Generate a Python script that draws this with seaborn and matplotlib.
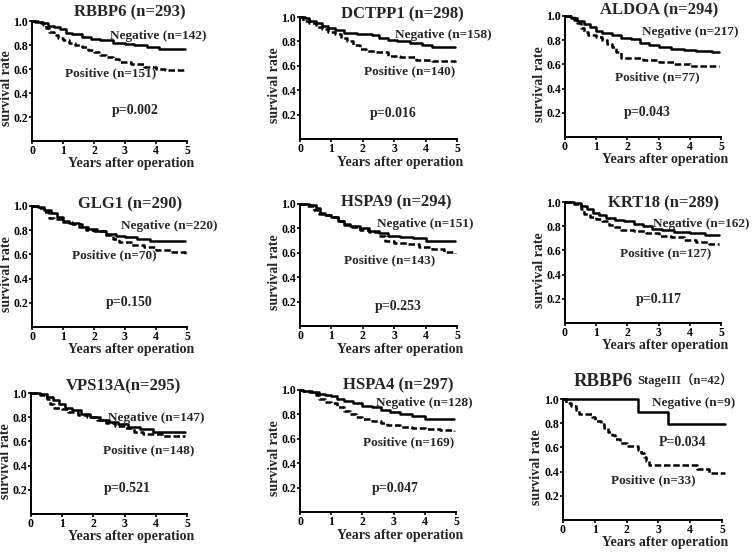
import matplotlib
matplotlib.use("Agg")
import matplotlib.pyplot as plt
import seaborn as sns

# ---------------- data ----------------
titles = ["RBBP6 (n=293)", "DCTPP1 (n=298)", "ALDOA (n=294)",
          "GLG1 (n=290)", "HSPA9 (n=294)", "KRT18 (n=289)",
          "VPS13A(n=295)", "HSPA4 (n=297)", "RBBP6"]
neg_labels = ["Negative (n=142)", "Negative (n=158)", "Negative (n=217)",
              "Negative (n=220)", "Negative (n=151)", "Negative (n=162)",
              "Negative (n=147)", "Negative (n=128)", "Negative (n=9)"]
pos_labels = ["Positive (n=151)", "Positive (n=140)", "Positive (n=77)",
              "Positive (n=70)", "Positive (n=143)", "Positive (n=127)",
              "Positive (n=148)", "Positive (n=169)", "Positive (n=33)"]
p_labels = ["p=0.002", "p=0.016", "p=0.043", "p=0.150", "p=0.253",
            "p=0.117", "p=0.521", "p=0.047", "P=0.034"]
subtitle9 = "StageIII（n=42）"
x_ticks = [0, 1, 2, 3, 4, 5]
y_ticks = [0.2, 0.4, 0.6, 0.8, 1.0]

rbbp6_neg_t = [0, 0.1, 0.3, 0.5, 0.7, 0.9, 1.1, 1.3, 1.6, 1.9, 2.2, 2.6, 3.0, 3.3, 3.7, 4.1, 4.5, 4.95]
rbbp6_neg_s = [1.0, 0.99, 0.98, 0.96, 0.95, 0.93, 0.90, 0.89, 0.87, 0.85, 0.84, 0.82, 0.81, 0.80, 0.78, 0.77, 0.765, 0.765]
rbbp6_pos_t = [0, 0.2, 0.35, 0.45, 0.55, 0.7, 0.85, 1.0, 1.2, 1.4, 1.6, 1.8, 2.0, 2.2, 2.4, 2.6, 2.8, 3.2, 3.6, 4.0, 4.3, 4.95]
rbbp6_pos_s = [1.0, 0.99, 0.97, 0.94, 0.91, 0.88, 0.86, 0.84, 0.82, 0.80, 0.78, 0.76, 0.74, 0.72, 0.70, 0.68, 0.66, 0.64, 0.62, 0.60, 0.59, 0.59]

dctpp1_neg_t = [0, 0.15, 0.3, 0.5, 0.7, 0.9, 1.1, 1.4, 1.8, 2.3, 2.5, 2.8, 3.1, 3.5, 3.9, 4.2, 4.95]
dctpp1_neg_s = [1.0, 0.99, 0.97, 0.95, 0.93, 0.91, 0.89, 0.87, 0.86, 0.85, 0.83, 0.81, 0.80, 0.79, 0.77, 0.755, 0.755]
dctpp1_pos_t = [0, 0.1, 0.3, 0.5, 0.7, 0.9, 1.1, 1.3, 1.5, 1.7, 1.9, 2.1, 2.4, 2.8, 3.2, 3.7, 4.2, 4.95]
dctpp1_pos_s = [1.0, 0.97, 0.95, 0.92, 0.90, 0.88, 0.86, 0.83, 0.80, 0.77, 0.74, 0.72, 0.71, 0.68, 0.67, 0.65, 0.64, 0.63]

aldoa_neg_t = [0, 0.2, 0.4, 0.6, 0.8, 1.0, 1.2, 1.5, 1.8, 2.1, 2.4, 2.7, 3.0, 3.4, 3.8, 4.2, 4.7, 4.95]
aldoa_neg_s = [1.0, 0.98, 0.96, 0.93, 0.91, 0.88, 0.86, 0.84, 0.82, 0.81, 0.78, 0.76, 0.745, 0.73, 0.72, 0.71, 0.70, 0.70]
aldoa_pos_t = [0, 0.3, 0.4, 0.5, 0.6, 0.75, 1.0, 1.2, 1.35, 1.5, 1.65, 1.8, 2.5, 3.0, 3.5, 4.0, 4.95]
aldoa_pos_s = [1.0, 0.97, 0.94, 0.90, 0.87, 0.84, 0.83, 0.80, 0.77, 0.74, 0.70, 0.65, 0.64, 0.62, 0.60, 0.59, 0.585]

glg1_neg_t = [0, 0.2, 0.4, 0.6, 0.8, 1.0, 1.2, 1.5, 1.8, 2.1, 2.4, 2.7, 3.0, 3.4, 3.8, 4.95]
glg1_neg_s = [1.0, 0.99, 0.97, 0.94, 0.91, 0.88, 0.86, 0.83, 0.81, 0.79, 0.77, 0.75, 0.74, 0.73, 0.71, 0.71]
glg1_pos_t = [0, 0.2, 0.4, 0.55, 0.7, 1.0, 1.3, 1.6, 1.75, 2.0, 2.4, 2.6, 2.8, 3.2, 3.6, 4.0, 4.5, 4.95]
glg1_pos_s = [1.0, 0.98, 0.95, 0.90, 0.89, 0.87, 0.85, 0.83, 0.80, 0.79, 0.76, 0.73, 0.70, 0.68, 0.66, 0.64, 0.62, 0.60]

hspa9_neg_t = [0, 0.3, 0.5, 0.65, 0.8, 1.0, 1.2, 1.4, 1.6, 1.9, 2.2, 2.5, 2.8, 3.2, 3.6, 4.0, 4.95]
hspa9_neg_s = [1.0, 0.99, 0.97, 0.93, 0.91, 0.89, 0.86, 0.84, 0.82, 0.80, 0.78, 0.76, 0.74, 0.73, 0.72, 0.70, 0.70]
hspa9_pos_t = [0, 0.2, 0.45, 0.6, 0.8, 1.0, 1.2, 1.4, 1.6, 1.9, 2.2, 2.5, 2.7, 3.0, 3.4, 3.8, 4.2, 4.6, 4.95]
hspa9_pos_s = [1.0, 0.98, 0.95, 0.92, 0.91, 0.89, 0.86, 0.83, 0.81, 0.79, 0.77, 0.74, 0.70, 0.68, 0.67, 0.65, 0.63, 0.61, 0.60]

krt18_neg_t = [0, 0.3, 0.5, 0.7, 0.9, 1.1, 1.3, 1.6, 1.9, 2.2, 2.5, 2.8, 3.1, 3.5, 4.0, 4.5, 4.95]
krt18_neg_s = [1.0, 0.99, 0.97, 0.94, 0.91, 0.89, 0.87, 0.85, 0.84, 0.82, 0.80, 0.78, 0.77, 0.75, 0.74, 0.73, 0.73]
krt18_pos_t = [0, 0.3, 0.5, 0.6, 0.8, 1.0, 1.2, 1.4, 1.6, 1.8, 2.2, 2.6, 3.0, 3.4, 3.8, 4.2, 4.6, 4.95]
krt18_pos_s = [1.0, 0.98, 0.94, 0.90, 0.88, 0.86, 0.84, 0.81, 0.79, 0.77, 0.76, 0.74, 0.72, 0.71, 0.69, 0.67, 0.655, 0.65]

vps13a_neg_t = [0, 0.3, 0.5, 0.7, 0.9, 1.1, 1.3, 1.6, 1.9, 2.2, 2.5, 2.8, 3.1, 3.5, 3.9, 4.95]
vps13a_neg_s = [1.0, 0.99, 0.97, 0.94, 0.91, 0.88, 0.86, 0.83, 0.80, 0.78, 0.76, 0.74, 0.72, 0.70, 0.68, 0.68]
vps13a_pos_t = [0, 0.3, 0.5, 0.6, 0.75, 1.0, 1.2, 1.5, 1.8, 2.1, 2.4, 2.7, 3.0, 3.3, 3.6, 4.2, 4.95]
vps13a_pos_s = [1.0, 0.98, 0.95, 0.91, 0.88, 0.87, 0.84, 0.82, 0.80, 0.78, 0.75, 0.73, 0.71, 0.68, 0.66, 0.645, 0.645]

hspa4_neg_t = [0, 0.1, 0.4, 0.6, 0.8, 1.0, 1.2, 1.4, 1.7, 2.0, 2.3, 2.6, 2.9, 3.2, 3.6, 4.0, 4.95]
hspa4_neg_s = [1.0, 0.99, 0.98, 0.97, 0.96, 0.95, 0.93, 0.91, 0.89, 0.87, 0.86, 0.84, 0.82, 0.80, 0.79, 0.76, 0.76]
hspa4_pos_t = [0, 0.1, 0.3, 0.5, 0.6, 0.8, 1.0, 1.2, 1.4, 1.6, 1.8, 2.0, 2.3, 2.6, 2.8, 3.2, 3.6, 4.0, 4.5, 4.95]
hspa4_pos_s = [1.0, 0.99, 0.98, 0.96, 0.93, 0.90, 0.89, 0.86, 0.83, 0.80, 0.78, 0.76, 0.75, 0.73, 0.71, 0.70, 0.69, 0.68, 0.67, 0.66]

stage3_neg_t = [0, 2.35, 3.3, 5.1]
stage3_neg_s = [1.0, 0.89, 0.79, 0.79]
stage3_pos_t = [0, 0.1, 0.25, 0.4, 0.5, 0.9, 1.0, 1.2, 1.3, 1.4, 1.55, 1.65, 1.8, 2.0, 2.35, 2.45, 2.55, 2.6, 2.7, 4.2, 4.6, 5.1]
stage3_pos_s = [1.0, 0.97, 0.94, 0.91, 0.88, 0.85, 0.82, 0.79, 0.76, 0.73, 0.70, 0.67, 0.64, 0.61, 0.58, 0.55, 0.52, 0.49, 0.455, 0.42, 0.39, 0.39]

curves = [
    (rbbp6_neg_t, rbbp6_neg_s, rbbp6_pos_t, rbbp6_pos_s),
    (dctpp1_neg_t, dctpp1_neg_s, dctpp1_pos_t, dctpp1_pos_s),
    (aldoa_neg_t, aldoa_neg_s, aldoa_pos_t, aldoa_pos_s),
    (glg1_neg_t, glg1_neg_s, glg1_pos_t, glg1_pos_s),
    (hspa9_neg_t, hspa9_neg_s, hspa9_pos_t, hspa9_pos_s),
    (krt18_neg_t, krt18_neg_s, krt18_pos_t, krt18_pos_s),
    (vps13a_neg_t, vps13a_neg_s, vps13a_pos_t, vps13a_pos_s),
    (hspa4_neg_t, hspa4_neg_s, hspa4_pos_t, hspa4_pos_s),
    (stage3_neg_t, stage3_neg_s, stage3_pos_t, stage3_pos_s),
]

# ---------------- layout (pixels: left, right, top(y=1), bottom(y=0)) -------
W, H = 754, 552
axes_px = [(32, 187, 21, 141), (300, 457, 17, 139), (565, 721, 16, 137),
           (32, 187, 206, 327), (300, 457, 204, 326), (565, 721, 202, 323),
           (31, 187, 393, 514), (300, 456, 390, 512), (563, 722, 399, 520)]
# text positions in data coords: title, negative, positive, p
title_xy = [(3.16, 1.07), (3.27, 1.02), (3.02, 1.05), (3.17, 1.01), (3.05, 1.01),
            (3.16, 0.99), (2.97, 1.055), (3.15, 1.04), (1.26, 1.146)]
neg_xy = [(4.06, 0.875), (4.57, 0.855), (4.03, 0.865), (4.44, 0.834), (3.99, 0.84),
          (4.36, 0.82), (4.03, 0.794), (4.0, 0.896), (4.1, 0.967)]
pos_xy = [(2.53, 0.564), (3.49, 0.555), (2.96, 0.49), (2.64, 0.594), (2.85, 0.54),
          (3.24, 0.575), (3.78, 0.527), (3.48, 0.575), (2.85, 0.33)]
p_xy = [(3.32, 0.258), (2.96, 0.213), (2.64, 0.20), (3.15, 0.20), (3.12, 0.16),
        (3.0, 0.197), (3.07, 0.21), (3.04, 0.19), (3.77, 0.64)]

sns.set_style("ticks")
plt.rcParams["font.family"] = ["Liberation Serif", "Noto Sans CJK JP"]
plt.rcParams["font.weight"] = "bold"
plt.rcParams["axes.labelweight"] = "bold"

fig = plt.figure(figsize=(W / 100, H / 100), dpi=100)

for i, (px, cv) in enumerate(zip(axes_px, curves)):
    l, r, t, b = px
    ax = fig.add_axes([l / W, 1 - b / H, (r - l) / W, (b - t) / H])
    nt, ns, pt, ps = cv
    sns.lineplot(x=nt, y=ns, ax=ax, drawstyle="steps-post", color="black",
                 linewidth=1.8, estimator=None, sort=False, clip_on=False)
    sns.lineplot(x=pt, y=ps, ax=ax, drawstyle="steps-post", color="black",
                 linewidth=1.8, estimator=None, sort=False, clip_on=False)
    ax.lines[-1].set_dashes((2.6, 1.1))
    ax.set_xlim(0, 5)
    ax.set_ylim(0, 1.0)
    ax.set_xticks(x_ticks)
    ax.set_xticklabels([str(v) for v in x_ticks])
    ax.set_yticks(y_ticks)
    ax.set_yticklabels([f"{v:.1f}" for v in y_ticks])
    for s in ("top", "right"):
        ax.spines[s].set_visible(False)
    for s in ("left", "bottom"):
        ax.spines[s].set_linewidth(1.4)
        ax.spines[s].set_color("black")
    ax.tick_params(length=2, width=1.2, labelsize=8.5, pad=0.8, colors="black")
    ax.set_xlabel("Years after operation", fontsize=10, va="center")
    ax.xaxis.set_label_coords(0.64, -0.19)
    ax.set_ylabel("survival rate", fontsize=10, va="center")
    ax.yaxis.set_label_coords(-0.165, 0.44)
    ax.patch.set_alpha(0)

    tx, ty = title_xy[i]
    ax.text(tx, ty, titles[i], fontsize=13.5 if i == 8 else 12,
            ha="center", va="center")
    ax.text(*neg_xy[i], neg_labels[i], fontsize=9.5, ha="center", va="center")
    ax.text(*pos_xy[i], pos_labels[i], fontsize=9.5, ha="center", va="center")
    ax.text(*p_xy[i], p_labels[i], fontsize=10, ha="center", va="center")
    if i == 8:
        ax.text(2.35, 1.16, subtitle9, fontsize=9, ha="left", va="center")

fig.savefig("out.png", dpi=100, facecolor="white")
